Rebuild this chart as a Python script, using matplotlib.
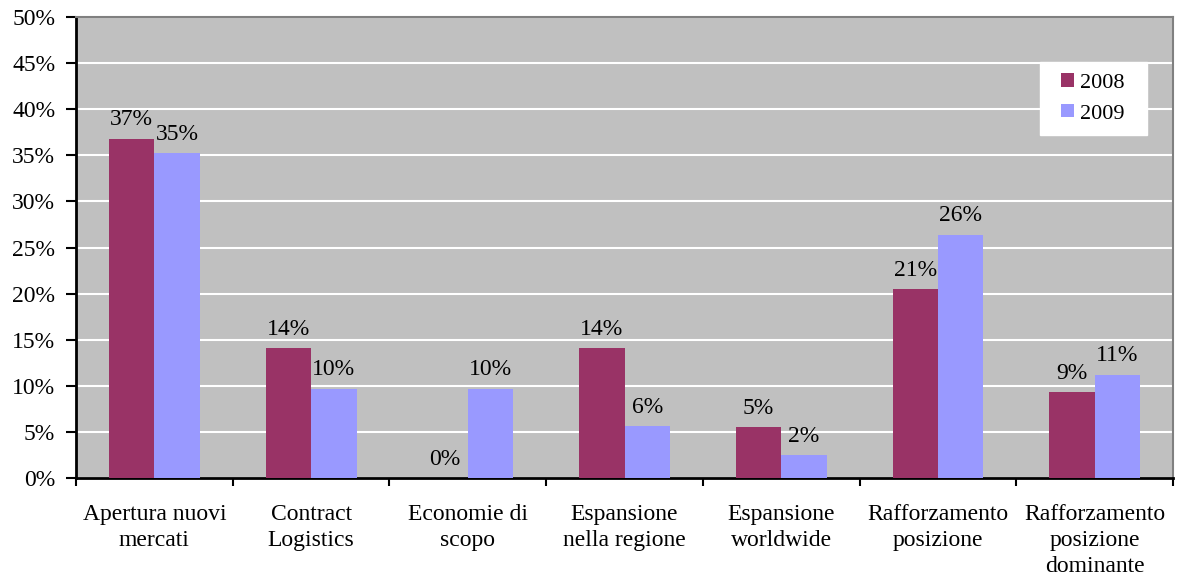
import numpy as np
import matplotlib.pyplot as plt
import matplotlib.patches as mpatches
from matplotlib.container import BarContainer
from matplotlib.legend_handler import HandlerPatch, update_from_first_child

# === DATA ===
categories = ["Apertura nuovi\nmercati", "Contract\nLogistics", "Economie di\nscopo",
              "Espansione\nnella regione", "Espansione\nworldwide", "Rafforzamento\nposizione",
              "Rafforzamento\nposizione\ndominante"]
vals_2008 = [36.8, 14.1, 0.0, 14.1, 5.5, 20.5, 9.3]
vals_2009 = [35.2, 9.7, 9.7, 5.6, 2.5, 26.4, 11.2]
labels_2008 = ["37%", "14%", "0%", "14%", "5%", "21%", "9%"]
labels_2009 = ["35%", "10%", "10%", "6%", "2%", "26%", "11%"]
yticks = [0, 5, 10, 15, 20, 25, 30, 35, 40, 45, 50]

plt.rcParams['font.family'] = ['Liberation Serif', 'DejaVu Serif']

fig = plt.figure(figsize=(11.79, 5.76), dpi=100)
ax = fig.add_axes([0.0645, 0.170, 0.9305, 0.8005])
ax.set_facecolor("#C0C0C0")

x = np.arange(len(categories))
w = 0.29
b1 = ax.bar(x - w / 2, vals_2008, w, color="#993366", label="2008", zorder=3)
b2 = ax.bar(x + w / 2, vals_2009, w, color="#9999FF", label="2009", zorder=3)

for rect, lab in zip(b1, labels_2008):
    ax.text(rect.get_x() + rect.get_width() / 2, rect.get_height() + 0.9, lab,
            ha="center", va="bottom", fontsize=17, zorder=4)
for rect, lab in zip(b2, labels_2009):
    ax.text(rect.get_x() + rect.get_width() / 2, rect.get_height() + 0.9, lab,
            ha="center", va="bottom", fontsize=17, zorder=4)

ax.set_xlim(-0.5, len(categories) - 0.5)
ax.set_ylim(0, 50)
ax.set_yticks(yticks)
ax.set_yticklabels([f"{t}%" for t in yticks], fontsize=17)
ax.yaxis.grid(True, color="white", linewidth=1.5, zorder=1)
ax.set_axisbelow(True)

# category labels centered, ticks at boundaries
ax.set_xticks(x)
ax.set_xticklabels(categories, fontsize=17, linespacing=1.3, va="top")
ax.tick_params(axis="x", which="major", length=0, pad=19)
ax.set_xticks(np.arange(-0.5, len(categories)), minor=True)
ax.tick_params(axis="x", which="minor", length=6, width=1.5, direction="out")
ax.tick_params(axis="y", length=7, width=1.5, direction="out", pad=8)

for s in ["left", "bottom"]:
    ax.spines[s].set_color("black")
    ax.spines[s].set_linewidth(2)
for s in ["top", "right"]:
    ax.spines[s].set_color("#808080")
    ax.spines[s].set_linewidth(1.5)


# small square legend marker pushed to the right of its slot (extra left padding)
def square_patch(legend, orig_handle, xdescent, ydescent, width, height, fontsize):
    s = height
    return mpatches.Rectangle((width - s - xdescent, -ydescent), s, s)


leg = ax.legend(loc="upper right", bbox_to_anchor=(0.976, 0.902), fontsize=16,
                frameon=True, fancybox=False, handlelength=1.05, handleheight=0.55,
                borderpad=0.5, labelspacing=0.5, handletextpad=0.25, borderaxespad=0,
                handler_map={BarContainer: HandlerPatch(patch_func=square_patch,
                                                        update_func=update_from_first_child)})
for t in leg.get_texts():
    t.set_text(t.get_text() + "  ")
leg.get_frame().set_facecolor("white")
leg.get_frame().set_edgecolor("white")
leg.get_frame().set_alpha(1)

fig.savefig("out.png", dpi=100)
